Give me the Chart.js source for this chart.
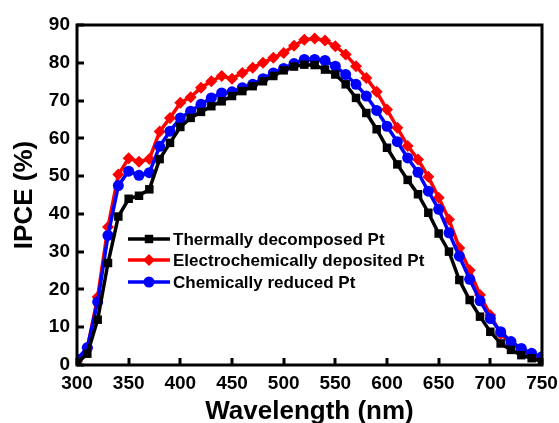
<!DOCTYPE html>
<html>
<head>
<meta charset="utf-8">
<title>IPCE spectra</title>
<script src="https://cdn.jsdelivr.net/npm/chart.js@4.4.1/dist/chart.umd.min.js"></script>
<style>
  html, body { margin: 0; padding: 0; background: #fff; }
  canvas { display: block; }
</style>
</head>
<body>
<canvas id="ipceChart" width="559" height="423"></canvas>
<script>
// Wavelength grid (nm), one reading every 10 nm
const wavelengths = [];
for (let w = 300; w <= 750; w += 10) wavelengths.push(w);

// IPCE (%) for each counter electrode
const thermalPt = [
    0.5, 3, 12, 27, 39.3, 44, 44.8, 46.5, 54.5, 58.8,
    63, 65.4, 67, 68.5, 69.8, 71.2, 72.5, 73.8, 75.1, 76.5,
    78, 79, 79.5, 79.4, 78.2, 76.9, 74.3, 70.7, 66.7, 62.4,
    57.5, 53.1, 49, 45.2, 40.3, 34.8, 30, 22.5, 17.2, 12.8,
    8.8, 5.7, 4.0, 2.6, 1.8, 0.8
];
const electroPt = [
    1, 4.5, 18, 36.5, 50.4, 54.7, 53.8, 54.5, 61.8, 65.4,
    69.4, 70.9, 73.4, 75.1, 76.5, 75.8, 77.3, 78.7, 80, 81.3,
    82.6, 84.5, 86.1, 86.4, 85.9, 84.4, 82.2, 79.1, 76, 72.3,
    67.6, 62.8, 58, 54.4, 49.8, 44.3, 38.5, 31, 25.1, 18.5,
    13.2, 8.3, 5.6, 4.0, 2.6, 1.8
];
const chemicalPt = [
    1.5, 4.6, 16.7, 34.3, 47.5, 51.3, 50.2, 50.9, 57.9, 61.9,
    65.4, 67.2, 69, 70.7, 72, 72.3, 73.4, 74.3, 75.8, 77.3,
    78.5, 79.8, 80.9, 80.9, 80.6, 79.1, 76.9, 74.3, 71.2, 67.4,
    63.2, 59.1, 54.8, 51, 46, 41.2, 35, 28.8, 22.7, 17,
    12.3, 8.8, 6.2, 4.4, 3.1, 2.2
];

const seriesLabels = ['Thermally decomposed Pt', 'Electrochemically deposited Pt', 'Chemically reduced Pt'];
const xTicks = [300, 350, 400, 450, 500, 550, 600, 650, 700, 750];
const yTicks = [0, 10, 20, 30, 40, 50, 60, 70, 80, 90];

const toPoints = arr => arr.map((v, i) => ({ x: wavelengths[i], y: v }));

const FONT = "'Liberation Sans', Arial, sans-serif";

// small marker painter used by the legend
function paintMarker(ctx, style, x, y, r, color) {
    ctx.save();
    ctx.fillStyle = color;
    ctx.beginPath();
    if (style === 'rect') {
        const s = Math.SQRT1_2 * r;
        ctx.rect(x - s, y - s, 2 * s, 2 * s);
    } else if (style === 'rectRot') {
        ctx.moveTo(x, y - r);
        ctx.lineTo(x + r, y);
        ctx.lineTo(x, y + r);
        ctx.lineTo(x - r, y);
        ctx.closePath();
    } else {
        ctx.arc(x, y, r, 0, Math.PI * 2);
    }
    ctx.fill();
    ctx.restore();
}

// frame, inward ticks and the in-plot legend
const framePlugin = {
    id: 'frame',
    afterDatasetsDraw(chart) {
        const { ctx, chartArea: a, scales } = chart;
        ctx.save();
        ctx.strokeStyle = '#000';
        ctx.lineWidth = 3;
        ctx.strokeRect(a.left, a.top, a.right - a.left, a.bottom - a.top);

        ctx.beginPath();
        xTicks.forEach(v => {
            const px = Math.round(scales.x.getPixelForValue(v));
            ctx.moveTo(px, a.bottom);
            ctx.lineTo(px, a.bottom - 7);
        });
        yTicks.forEach(v => {
            const py = Math.round(scales.y.getPixelForValue(v));
            ctx.moveTo(a.left, py);
            ctx.lineTo(a.left + 7, py);
        });
        ctx.stroke();

        // legend
        const rows = [239, 260, 282];
        chart.data.datasets.forEach((ds, i) => {
            const y = rows[i];
            ctx.strokeStyle = ds.borderColor;
            ctx.lineWidth = 3.5;
            ctx.beginPath();
            ctx.moveTo(128, y);
            ctx.lineTo(170, y);
            ctx.stroke();
            paintMarker(ctx, ds.pointStyle, 149, y, ds.pointRadius, ds.borderColor);
            ctx.fillStyle = '#000';
            ctx.font = 'bold 17px ' + FONT;
            ctx.textAlign = 'left';
            ctx.textBaseline = 'middle';
            ctx.fillText(ds.label, 173, y + 1);
        });
        ctx.restore();
    }
};

const ctx = document.getElementById('ipceChart').getContext('2d');

new Chart(ctx, {
    type: 'line',
    data: {
        datasets: [
            {
                label: seriesLabels[0],
                data: toPoints(thermalPt),
                borderColor: '#000000',
                backgroundColor: '#000000',
                pointStyle: 'rect',
                pointRadius: 6,
                order: 0
            },
            {
                label: seriesLabels[1],
                data: toPoints(electroPt),
                borderColor: '#ff0000',
                backgroundColor: '#ff0000',
                pointStyle: 'rectRot',
                pointRadius: 6,
                order: 2
            },
            {
                label: seriesLabels[2],
                data: toPoints(chemicalPt),
                borderColor: '#0000ff',
                backgroundColor: '#0000ff',
                pointStyle: 'circle',
                pointRadius: 5.5,
                order: 1
            }
        ].map(ds => Object.assign(ds, {
            borderWidth: 3.5,
            tension: 0,
            fill: false,
            pointBorderWidth: 0,
            pointBackgroundColor: ds.borderColor
        }))
    },
    options: {
        responsive: false,
        animation: false,
        layout: { padding: { top: 25, right: 17, left: 0, bottom: 0 } },
        plugins: {
            legend: { display: false },
            tooltip: { enabled: false }
        },
        scales: {
            x: {
                type: 'linear',
                min: 300,
                max: 750,
                afterFit: scale => { scale.height = 58; },
                afterBuildTicks: scale => { scale.ticks = xTicks.map(v => ({ value: v })); },
                // tick marks are painted inward by the frame plugin; tickLength only spaces the labels
                grid: { display: false, drawTicks: true, tickLength: 7 },
                border: { display: false },
                ticks: {
                    color: '#000',
                    padding: 0,
                    maxRotation: 0,
                    font: { family: FONT, size: 19, weight: 'bold' }
                },
                title: {
                    display: true,
                    text: 'Wavelength (nm)',
                    color: '#000',
                    padding: { top: 0, bottom: -2 },
                    font: { family: FONT, size: 26, weight: 'bold', lineHeight: 1 }
                }
            },
            y: {
                min: 0,
                max: 90,
                afterFit: scale => { scale.width = 77; },
                afterBuildTicks: scale => { scale.ticks = yTicks.map(v => ({ value: v })); },
                grid: { display: false, drawTicks: false },
                border: { display: false },
                ticks: {
                    color: '#000',
                    padding: 7,
                    font: { family: FONT, size: 19, weight: 'bold' }
                },
                title: {
                    display: true,
                    text: 'IPCE (%)',
                    color: '#000',
                    padding: { top: 12, bottom: 0 },
                    font: { family: FONT, size: 26, weight: 'bold', lineHeight: 1 }
                }
            }
        }
    },
    plugins: [framePlugin]
});
</script>
</body>
</html>
